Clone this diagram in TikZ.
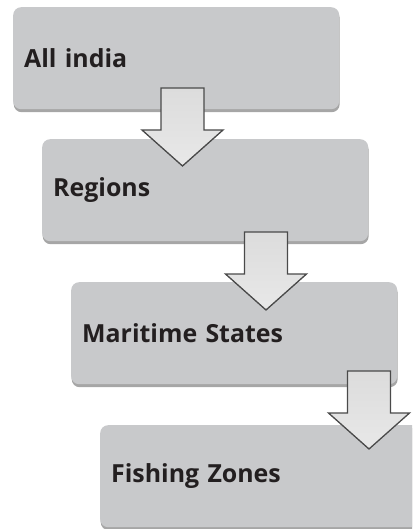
\documentclass[tikz,border=0pt]{standalone}
\usepackage{fontspec}
\setmainfont{Open Sans}
\usetikzlibrary{shadows}
\definecolor{boxgray}{HTML}{C8C9CB}
\definecolor{textblack}{HTML}{231F20}
\definecolor{arrowtop}{HTML}{DCDCDC}
\definecolor{arrowbot}{HTML}{E8E8E8}
\definecolor{arrowline}{HTML}{4A4A4A}
\begin{document}
\begin{tikzpicture}[x=1bp,y=-1bp,
  stage/.style={rectangle, rounded corners=8bp, fill=boxgray,
    minimum width=326bp, minimum height=102bp, text width=304bp,
    inner sep=11bp, align=left, anchor=north west,
    font=\bfseries\fontsize{25}{30}\selectfont, text=textblack,
    drop shadow={shadow xshift=0.5bp, shadow yshift=-3bp, opacity=0.35, fill=black}},
  blockarrow/.style={draw=arrowline, line width=1.3bp, line join=miter,
    top color=arrowtop, bottom color=arrowbot},
  downarrow/.pic={\draw[blockarrow] (-21.5,0) -- (21.5,0) -- (21.5,42) -- (40.5,42)
     -- (0,78) -- (-40.5,42) -- (-21.5,42) -- cycle;}
  ]
\useasboundingbox (0,0) rectangle (412,529);
\clip (0,0) rectangle (412,529);
\node[stage] (b1) at (13,7) {All india};
\node[stage] (b2) at (42,139) {Regions};
\node[stage] (b3) at (71,282) {Maritime States};
\node[stage] (b4) at (100,425) {Fishing Zones};
\coordinate (a1) at (182.5,88);
\coordinate (a2) at (266,232);
\coordinate (a3) at (369,371);
\pic at (a1) {downarrow};
\pic at (a2) {downarrow};
\pic at (a3) {downarrow};
\end{tikzpicture}
\end{document}
